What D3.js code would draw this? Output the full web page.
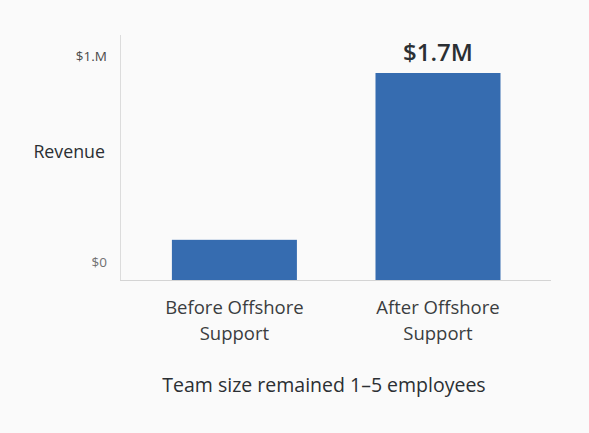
<!DOCTYPE html>
<html><head><meta charset="utf-8">
<script src="https://cdn.jsdelivr.net/npm/d3@7"></script>
<style>
html,body{margin:0;padding:0;background:#fafafa;}
svg{display:block;}
text{font-family:"Open Sans","Noto Sans",sans-serif;}
</style></head>
<body>
<script>
const categories = ["Before Offshore\nSupport", "After Offshore\nSupport"];
const revenue = [0.33, 1.7]; // $M
const barLabels = ["", "$1.7M"];
const tickValues = [0, 1];
const tickLabels = ["$0", "$1.M"];
const tickColors = ["#707070", "#4a4a4a"];
const yTitle = "Revenue";
const footnote = "Team size remained 1–5 employees";

const W = 589, H = 433;
const svg = d3.select("body").append("svg").attr("width", W).attr("height", H);
svg.append("rect").attr("width", W).attr("height", H).attr("fill", "#fafafa");

const x = d3.scaleBand().domain(categories).range([121, 551.4]).paddingInner(0.386).paddingOuter(0.25);
const y = d3.scaleLinear().domain([0, 1.7]).range([280, 73]);
const yLab = d3.scaleLinear().domain([0, 1]).range([262, 56]);

// axis lines
svg.append("line").attr("x1", 120.5).attr("x2", 120.5).attr("y1", 35).attr("y2", 280)
  .attr("stroke", "#dcdcdc").attr("stroke-width", 1);
svg.append("line").attr("x1", 120).attr("x2", 551).attr("y1", 280.5).attr("y2", 280.5)
  .attr("stroke", "#d4d4d4").attr("stroke-width", 1.2);

// bars
svg.selectAll("rect.bar").data(revenue).enter().append("rect").attr("class", "bar")
  .attr("x", (d, i) => x(categories[i]))
  .attr("width", x.bandwidth())
  .attr("y", d => y(d))
  .attr("height", d => y(0) - y(d))
  .attr("fill", "#366cb0");

// bar value labels
svg.selectAll("text.val").data(revenue).enter().append("text").attr("class", "val")
  .attr("x", (d, i) => x(categories[i]) + x.bandwidth() / 2)
  .attr("y", d => y(d) - 12)
  .attr("text-anchor", "middle")
  .attr("font-size", 24).attr("font-weight", 600).attr("fill", "#2b2f33")
  .text((d, i) => barLabels[i]);

// y tick labels
svg.selectAll("text.tick").data(tickValues).enter().append("text").attr("class", "tick")
  .attr("x", 107).attr("y", d => yLab(d))
  .attr("dy", "0.35em").attr("text-anchor", "end")
  .attr("font-size", 13.5).attr("fill", (d, i) => tickColors[i])
  .text((d, i) => tickLabels[i]);

// y title
svg.append("text").attr("x", 105).attr("y", 152).attr("dy", "0.35em")
  .attr("text-anchor", "end").attr("font-size", 17.8).attr("fill", "#2b2f33").text(yTitle);

// category labels
categories.forEach(c => {
  const t = svg.append("text").attr("text-anchor", "middle").attr("font-size", 18.5).attr("fill", "#3a3d40");
  c.split("\n").forEach((line, j) => {
    t.append("tspan").attr("x", x(c) + x.bandwidth() / 2).attr("y", 308 + j * 26).attr("dy", "0.35em").text(line);
  });
});

// footnote
svg.append("text").attr("x", 324).attr("y", 385).attr("dy", "0.35em")
  .attr("text-anchor", "middle").attr("font-size", 19.5).attr("fill", "#2b2f33").text(footnote);
</script>
</body></html>
